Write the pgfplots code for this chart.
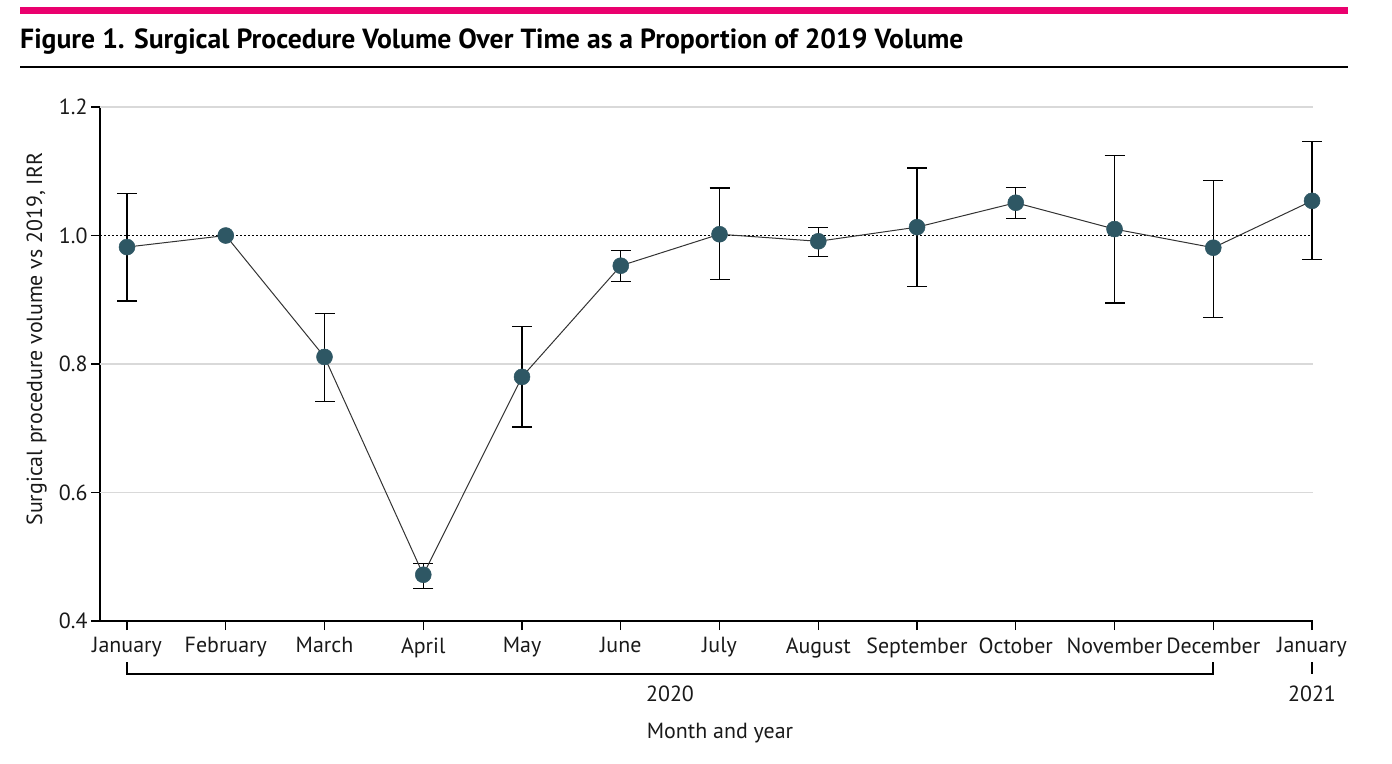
\documentclass[border=0pt]{standalone}
\usepackage{pgfplots}
\pgfplotsset{compat=1.18}
\usepackage{pgfplotstable}
\usepackage{fontspec}
\setmainfont{PT Sans}
\newfontfamily\titlefont{PT Sans}
\definecolor{jamamag}{RGB}{234,0,110}
\definecolor{dotcol}{RGB}{46,87,100}
\definecolor{gridgray}{RGB}{217,217,217}

\pgfplotstableread{
x y
0 0.982
1 1.000
2 0.811
3 0.472
4 0.780
5 0.953
6 1.002
7 0.991
8 1.013
9 1.051
10 1.010
11 0.981
12 1.054
}\pts

\pgfplotstableread{
x y ep em
0 0.982 0.084 0.084
2 0.811 0.068 0.069
3 0.472 0.018 0.021
4 0.780 0.078 0.078
5 0.953 0.024 0.024
6 1.002 0.072 0.071
7 0.991 0.022 0.023
8 1.013 0.092 0.092
9 1.051 0.024 0.025
10 1.010 0.114 0.115
11 0.981 0.105 0.108
12 1.054 0.092 0.092
}\errs

\begin{document}
\begin{tikzpicture}
\path[use as bounding box] (0bp,0bp) rectangle (1392bp,-764bp);
\fill[jamamag] (20bp,-7bp) rectangle (1348bp,-14bp);
\draw[line width=2bp] (20bp,-66.5bp) -- (1348bp,-66.5bp);
\node[anchor=base west, inner sep=0pt] at (20bp,-48bp)
  {\titlefont\bfseries\fontsize{27.8}{32}\selectfont Figure 1. Surgical Procedure Volume Over Time as a Proportion of 2019 Volume};

\begin{axis}[
  at={(100bp,-621bp)}, anchor=south west,
  scale only axis, width=1213bp, height=514bp,
  xmin=-0.2734, xmax=12.01, ymin=0.4, ymax=1.2,
  axis x line*=bottom, axis y line*=left,
  axis line style={line width=1.2bp, black, -},
  xtick={0,...,12},
  xticklabels={January,February,March,April,May,June,July,August,September,October,November,December,January},
  ytick={0.4,0.6,0.8,1.0,1.2},
  yticklabels={0.4,0.6,0.8,1.0,1.2},
  tick align=outside, major tick length=9bp,
  tick style={black, line width=1.2bp},
  ticklabel style={font=\fontsize{22}{26}\selectfont, text=black!90},
  xticklabel style={yshift=-4bp},
  clip=false,
]
\draw[gridgray, line width=1.5bp] (axis cs:-0.2734,0.6) -- (axis cs:12.01,0.6);
\draw[gridgray, line width=1.5bp] (axis cs:-0.2734,0.8) -- (axis cs:12.01,0.8);
\draw[gridgray, line width=1.5bp] (axis cs:-0.2734,1.2) -- (axis cs:12.01,1.2);
\draw[black, line width=1.5bp, dash pattern=on 1.8bp off 2.2bp] (axis cs:-0.2734,1.0) -- (axis cs:12.01,1.0);
\addplot[draw=none, mark=none, forget plot,
  error bars/.cd, y dir=both, y explicit, error mark=|,
  error bar style={black, line width=1.1bp},
  error mark options={black, line width=1.1bp, mark size=10bp}]
  table[x=x, y=y, y error plus=ep, y error minus=em] {\errs};
\addplot[black!80, line width=1bp, mark=*, mark size=8bp,
  mark options={fill=dotcol, draw=dotcol, line width=0.5bp}]
  table[x=x, y=y] {\pts};
\end{axis}

\draw[line width=1.2bp] (127bp,-662bp) -- (127bp,-674bp) -- (1213bp,-674bp) -- (1213bp,-662bp);
\draw[line width=1.2bp] (1312bp,-662bp) -- (1312bp,-674bp);
\node[font=\fontsize{22}{26}\selectfont, text=black!90, anchor=base] at (670bp,-701bp) {2020};
\node[font=\fontsize{22}{26}\selectfont, text=black!90, anchor=base] at (1312bp,-701bp) {2021};
\node[font=\fontsize{22}{26}\selectfont, text=black!90, anchor=base] at (720bp,-738bp) {Month and year};
\node[font=\fontsize{22}{26}\selectfont, text=black!90, rotate=90, anchor=base] at (42bp,-339bp) {Surgical procedure volume vs 2019, IRR};
\end{tikzpicture}
\end{document}
